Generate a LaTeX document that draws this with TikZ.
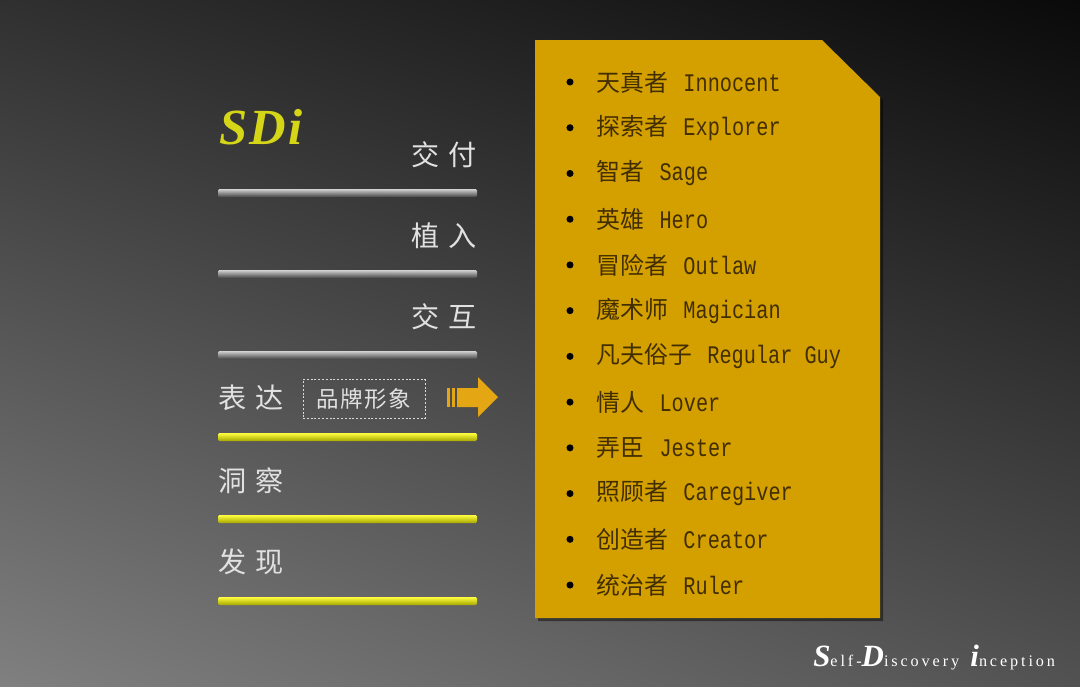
\documentclass[tikz,border=0pt]{standalone}
\usepackage{fontspec}
\usetikzlibrary{shadings}
\setmainfont{Liberation Serif}
\newfontfamily\cjk{Noto Sans CJK SC}
\newfontfamily\mono[FakeStretch=0.8]{Liberation Mono}
\definecolor{cardgold}{RGB}{212,160,0}
\definecolor{arrowgold}{RGB}{228,166,18}
\definecolor{sdiyellow}{RGB}{214,214,24}
\definecolor{itemtext}{RGB}{66,46,0}
\definecolor{lbltext}{RGB}{225,225,225}
\definecolor{bgul}{RGB}{48,48,48}
\definecolor{bgur}{RGB}{10,10,10}
\definecolor{bgll}{RGB}{128,128,128}
\definecolor{bglr}{RGB}{82,82,82}
\newcommand{\sdbig}[1]{{\fontsize{22}{22}\selectfont\bfseries\itshape #1}}
\newcommand{\sdsmall}[1]{{\fontsize{11.5}{11.5}\selectfont\addfontfeature{LetterSpace=18}#1}}

\begin{document}
\begin{tikzpicture}[x=0.025cm, y=-0.025cm,
    lbl/.style={inner sep=0pt, text=lbltext, font=\cjk\fontsize{20}{20}\selectfont},
    bargrey/.style={top color=gray!35, bottom color=gray!55!black, rounded corners=1},
    baryellow/.style={top color=yellow!75!white, bottom color=yellow!65!black, rounded corners=1},
    item/.style={anchor=west, inner sep=0pt, text=itemtext},
    dot/.style={circle, fill=black, inner sep=0pt, minimum size=5pt}]
  \useasboundingbox (0,0) rectangle (1080,686);
  \shade[upper left=bgul, upper right=bgur, lower left=bgll, lower right=bglr]
    (0,0) rectangle (1080,686);

  % left column
  \node[anchor=base west, inner sep=0pt, text=sdiyellow,
        font=\fontsize{36}{36}\selectfont\bfseries\itshape\addfontfeature{LetterSpace=5}] (sdi) at (219,144) {SDi};
  \foreach \y in {193,274,355} \shade[bargrey] (218,\y-4) rectangle (477,\y+4);
  \foreach \y in {437,519,601} \shade[baryellow] (218,\y-4) rectangle (477,\y+4);
  \node[lbl, anchor=east] (jiaofu) at (477,155) {交\hspace{6.4pt}付};
  \node[lbl, anchor=east] (zhiru) at (477,236) {植\hspace{6.4pt}入};
  \node[lbl, anchor=east] (jiaohu) at (477,317) {交\hspace{6.4pt}互};
  \node[lbl, anchor=west] (biaoda) at (218,398) {表\hspace{6.4pt}达};
  \node[lbl, anchor=west] (dongcha) at (218,481) {洞\hspace{6.4pt}察};
  \node[lbl, anchor=west] (faxian) at (218,562) {发\hspace{6.4pt}现};
  \node[draw=white!85!black, dash pattern=on 1.5pt off 1.2pt, text=lbltext, inner sep=0pt,
        minimum width=3.05cm, minimum height=0.975cm, font=\cjk\fontsize{16}{16}\selectfont]
    (pinpai) at (364,399) {品\hspace{1pt}牌\hspace{1pt}形\hspace{1pt}象};

  % arrow
  \fill[arrowgold] (447,388) rectangle (450,407);
  \fill[arrowgold] (452,388) rectangle (455,407);
  \fill[arrowgold] (457,388) -- (478,388) -- (478,377) -- (498,397) -- (478,417) -- (478,407) -- (457,407) -- cycle;

  % card
  \fill[black, opacity=0.45] (538,43) -- (825,43) -- (883,100) -- (883,621) -- (538,621) -- cycle;
  \fill[cardgold] (535,40) -- (822,40) -- (880,97) -- (880,618) -- (535,618) -- cycle;
  \foreach \zh/\en [count=\k from 0] in {天真者/Innocent, 探索者/Explorer, 智者/Sage, 英雄/Hero,
      冒险者/Outlaw, 魔术师/Magician, 凡夫俗子/Regular Guy, 情人/Lover, 弄臣/Jester,
      照顾者/Caregiver, 创造者/Creator, 统治者/Ruler} {
    \node[dot] (dot\k) at (570,{82+\k*45.73}) {};
    \node[item] (item\k) at (596,{82+\k*45.73})
      {{\cjk\fontsize{17}{17}\selectfont\zh}\hspace{11pt}{\mono\fontsize{18}{18}\selectfont\en}};
  }

  \node[anchor=base west, inner sep=0pt, text=white] (sdinc) at (813,666)
    {\sdbig{S}\sdsmall{elf-}\sdbig{D}\sdsmall{iscovery}\hspace{8pt}\sdbig{i}\sdsmall{nception}};
\end{tikzpicture}
\end{document}
